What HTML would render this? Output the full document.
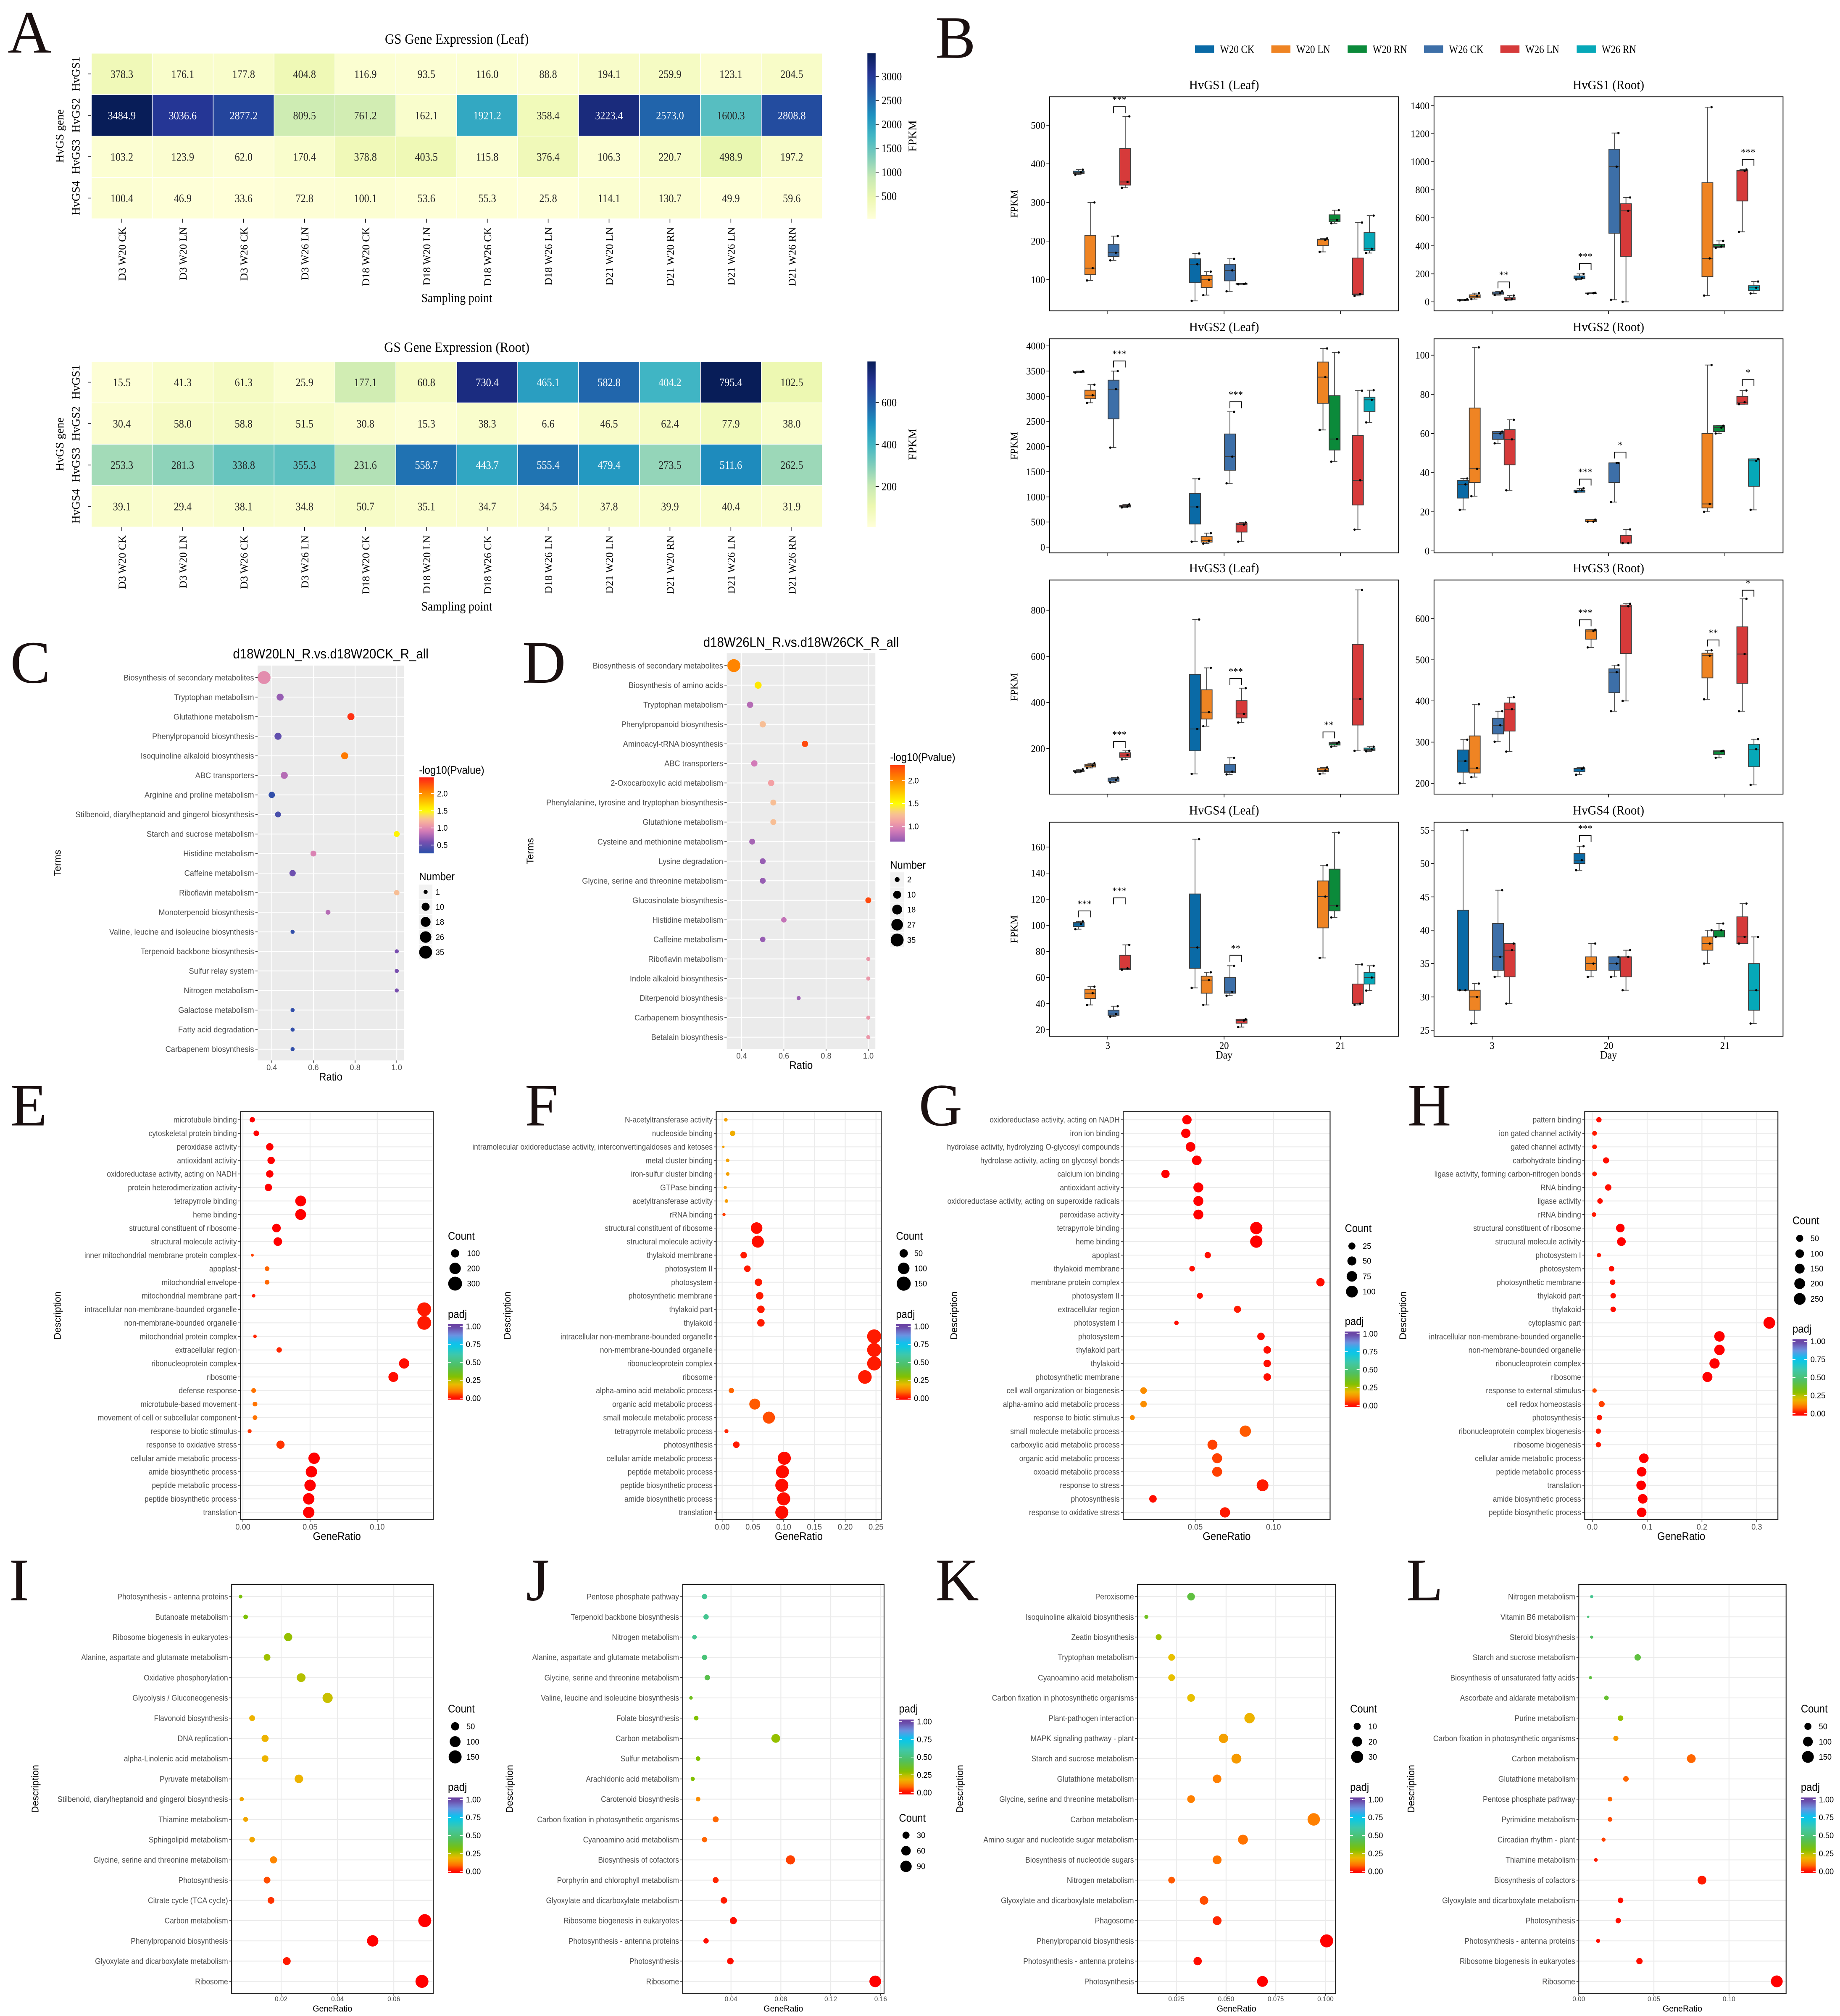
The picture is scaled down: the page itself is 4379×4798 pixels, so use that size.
<!DOCTYPE html>
<html><head><meta charset="utf-8"><title>GS gene expression figure</title>
<style>html,body{margin:0;padding:0;background:#fff}svg{display:block}</style></head>
<body>
<svg id="fig" xmlns="http://www.w3.org/2000/svg" width="4379" height="4798" viewBox="0 0 1434 1571" preserveAspectRatio="none">
<rect x="0" y="0" width="1434" height="1571" fill="#ffffff"/>
<defs>
<linearGradient id="gYlGnBu" x1="0" y1="1" x2="0" y2="0">
<stop offset="0" stop-color="#ffffd9"/><stop offset="0.125" stop-color="#edf8b1"/><stop offset="0.25" stop-color="#c7e9b4"/><stop offset="0.375" stop-color="#7fcdbb"/><stop offset="0.5" stop-color="#41b6c4"/><stop offset="0.625" stop-color="#1d91c0"/><stop offset="0.75" stop-color="#225ea8"/><stop offset="0.875" stop-color="#253494"/><stop offset="1" stop-color="#081d58"/>
</linearGradient>
</defs>
</svg>
<script>
// ---------------- data: heatmaps ----------------
const hmCols=['D3 W20 CK','D3 W20 LN','D3 W26 CK','D3 W26 LN','D18 W20 CK','D18 W20 LN','D18 W26 CK','D18 W26 LN','D21 W20 LN','D21 W20 RN','D21 W26 LN','D21 W26 RN'];
const hmRows=['HvGS1','HvGS2','HvGS3','HvGS4'];
const leafVals=[[378.3,176.1,177.8,404.8,116.9,93.5,116.0,88.8,194.1,259.9,123.1,204.5],[3484.9,3036.6,2877.2,809.5,761.2,162.1,1921.2,358.4,3223.4,2573.0,1600.3,2808.8],[103.2,123.9,62.0,170.4,378.8,403.5,115.8,376.4,106.3,220.7,498.9,197.2],[100.4,46.9,33.6,72.8,100.1,53.6,55.3,25.8,114.1,130.7,49.9,59.6]];
const rootVals=[[15.5,41.3,61.3,25.9,177.1,60.8,730.4,465.1,582.8,404.2,795.4,102.5],[30.4,58.0,58.8,51.5,30.8,15.3,38.3,6.6,46.5,62.4,77.9,38.0],[253.3,281.3,338.8,355.3,231.6,558.7,443.7,555.4,479.4,273.5,511.6,262.5],[39.1,29.4,38.1,34.8,50.7,35.1,34.7,34.5,37.8,39.9,40.4,31.9]];
const leafTicks=[500,1000,1500,2000,2500,3000];
const rootTicks=[200,400,600];

// ---------------- data: boxplots ----------------
const bpGroups=['W20 CK','W20 LN','W20 RN','W26 CK','W26 LN','W26 RN'];
const bpDays=['3','20','21'];
const bpDayGroups=[[0,1,3,4],[0,1,3,4],[1,2,4,5]];
const bpTitles=['HvGS1 (Leaf)','HvGS1 (Root)','HvGS2 (Leaf)','HvGS2 (Root)','HvGS3 (Leaf)','HvGS3 (Root)','HvGS4 (Leaf)','HvGS4 (Root)'];
const bpDomains=[[19.4,573.8],[-64,1464],[-112,4142],[-0.96,108.4],[2.5,931],[173.8,693.7],[15,179],[24.1,56.2]];
const bpTicks=[[100,200,300,400,500],[0,200,400,600,800,1000,1200,1400],[0,500,1000,1500,2000,2500,3000,3500,4000],[0,20,40,60,80,100],[200,400,600,800],[200,300,400,500,600],[20,40,60,80,100,120,140,160],[25,30,35,40,45,50,55]];
const bpStats=[
 [[[372,375,378,381,385],[98,113,130,215,300],[150,160,170,192,213],[338,345,353,440,523]],
  [[45,92,140,154,168],[60,80,100,111,121],[70,97,124,140,154],[88,88,89,90,90]],
  [[172,188,203,205,207],[246,250,255,268,280],[58,61,63,156,248],[169,175,180,222,266]]],
 [[[10,12,14,16,18],[20,28,40,50,62],[48,55,62,70,75],[12,15,20,30,45]],
  [[160,165,170,185,200],[58,60,62,63,65],[15,490,965,1090,1205],[0,325,650,700,745]],
  [[45,180,310,850,1390],[385,390,395,410,435],[500,720,935,940,945],[60,80,100,115,145]]],
 [[[3470,3480,3485,3490,3500],[2870,2950,3020,3120,3230],[1980,2550,3140,3320,3500],[790,800,810,830,850]],
  [[110,460,800,1070,1360],[70,100,130,210,280],[1270,1530,1800,2250,2690],[110,300,450,480,490]],
  [[2330,2860,3380,3680,3950],[1700,1930,2150,3010,3870],[350,840,1330,2220,3110],[2480,2700,2930,2980,3120]]],
 [[[21,27,34,36,37],[28,35,42,73,104],[55,57,60,61,61],[31,44,57,62,67]],
  [[30,30,31,31,32],[15,15,15,16,16],[25,35,45,45,45],[4,4,4,8,11]],
  [[20,22,24,60,95],[60,61,63,64,64],[75,75,76,79,82],[21,33,46,47,47]]],
 [[[97,100,103,106,110],[116,120,126,132,136],[53,58,64,72,74],[153,162,172,182,190]],
  [[90,190,285,522,760],[297,328,358,455,550],[88,95,100,132,160],[313,333,350,408,462]],
  [[90,100,105,115,118],[208,215,222,226,228],[190,302,415,652,888],[188,192,196,202,208]]],
 [[[200,227,254,281,306],[215,225,237,315,392],[301,320,341,358,375],[277,327,380,395,409]],
  [[221,228,235,236,238],[530,550,570,573,573],[375,420,470,478,487],[400,515,630,633,636]],
  [[404,456,510,516,523],[262,270,278,279,279],[375,443,514,580,648],[196,240,283,295,307]]],
 [[[97,99,101,102,103],[39,44,48,51,53],[30,31,32,35,38],[66,66,67,77,85]],
  [[52,67,83,124,166],[39,48,58,61,64],[46,48,49,60,69],[22,25,27,28,28]],
  [[75,98,122,134,146],[106,111,115,143,171],[39,40,40,55,70],[50,55,60,64,69]]],
 [[[31,31,31,43,55],[26,28,30,31,32],[33,34,36,41,46],[29,33,37,38,38]],
  [[49,50,50.5,51.5,52.6],[33,34,35,36,38],[33,34,35,36,36],[31,33,36,36,37]],
  [[35,37,38,39,40],[39,39,40,40,41],[38,38,39,42,44],[26,28,31,35,39]]]
];
// significance: [day, groupA, groupB, bracketValue, label]
const bpSig=[
 [[0,3,4,548,'***']],
 [[0,3,4,142,'**'],[1,0,1,273,'***'],[2,4,5,1017,'***']],
 [[0,3,4,3700,'***'],[1,3,4,2890,'***']],
 [[1,0,1,36.7,'***'],[1,3,4,50.5,'*'],[2,4,5,87.5,'*']],
 [[0,3,4,230,'***'],[1,3,4,504,'***'],[2,1,2,272,'**']],
 [[1,0,1,597,'***'],[2,1,2,548,'**'],[2,4,5,669,'*']],
 [[0,0,1,111,'***'],[0,3,4,121,'***'],[1,3,4,77,'**']],
 [[1,0,1,54.2,'***']]
];

// ---------------- data: enrichment dot plots ----------------
const cTerms=['Biosynthesis of secondary metabolites','Tryptophan metabolism','Glutathione metabolism','Phenylpropanoid biosynthesis','Isoquinoline alkaloid biosynthesis','ABC transporters','Arginine and proline metabolism','Stilbenoid, diarylheptanoid and gingerol biosynthesis','Starch and sucrose metabolism','Histidine metabolism','Caffeine metabolism','Riboflavin metabolism','Monoterpenoid biosynthesis','Valine, leucine and isoleucine biosynthesis','Terpenoid backbone biosynthesis','Sulfur relay system','Nitrogen metabolism','Galactose metabolism','Fatty acid degradation','Carbapenem biosynthesis'];
const cRatio=[0.363,0.44,0.78,0.43,0.75,0.46,0.40,0.43,1.0,0.60,0.50,1.0,0.67,0.50,1.0,1.0,1.0,0.50,0.50,0.50];
const cNumber=[35,7,7,7,7,7,5,4,4,4,5,3,2,1,1,1,1,1,1,1];
const cLogP=[1.0,0.7,2.4,0.5,2.1,0.8,0.3,0.4,1.55,0.95,0.55,1.25,0.8,0.3,0.6,0.6,0.6,0.3,0.3,0.3];

const dTerms=['Biosynthesis of secondary metabolites','Biosynthesis of amino acids','Tryptophan metabolism','Phenylpropanoid biosynthesis','Aminoacyl-tRNA biosynthesis','ABC transporters','2-Oxocarboxylic acid metabolism','Phenylalanine, tyrosine and tryptophan biosynthesis','Glutathione metabolism','Cysteine and methionine metabolism','Lysine degradation','Glycine, serine and threonine metabolism','Glucosinolate biosynthesis','Histidine metabolism','Caffeine metabolism','Riboflavin metabolism','Indole alkaloid biosynthesis','Diterpenoid biosynthesis','Carbapenem biosynthesis','Betalain biosynthesis'];
const dRatio=[0.363,0.478,0.44,0.50,0.70,0.46,0.54,0.55,0.55,0.45,0.50,0.50,1.0,0.60,0.50,1.0,1.0,0.67,1.0,1.0];
const dNumber=[35,7,5,5,5,5,5,4,4,4,4,4,4,3,3,1,1,1,1,1];
const dLogP=[2.05,1.6,0.8,1.25,2.3,0.9,1.1,1.25,1.25,0.75,0.7,0.7,2.3,0.85,0.7,1.05,1.05,0.72,1.05,1.05];

const eTerms=['microtubule binding','cytoskeletal protein binding','peroxidase activity','antioxidant activity','oxidoreductase activity, acting on NADH','protein heterodimerization activity','tetrapyrrole binding','heme binding','structural constituent of ribosome','structural molecule activity','inner mitochondrial membrane protein complex','apoplast','mitochondrial envelope','mitochondrial membrane part','intracellular non-membrane-bounded organelle','non-membrane-bounded organelle','mitochondrial protein complex','extracellular region','ribonucleoprotein complex','ribosome','defense response','microtubule-based movement','movement of cell or subcellular component','response to biotic stimulus','response to oxidative stress','cellular amide metabolic process','amide biosynthetic process','peptide metabolic process','peptide biosynthetic process','translation'];
const eRatio=[0.007,0.010,0.020,0.021,0.020,0.019,0.043,0.043,0.025,0.026,0.007,0.018,0.018,0.008,0.135,0.135,0.009,0.027,0.120,0.112,0.008,0.009,0.009,0.005,0.028,0.053,0.051,0.050,0.049,0.049];
const eCount=[40,45,80,80,80,80,180,180,110,110,10,30,30,15,300,300,15,40,160,150,30,30,30,20,100,200,200,200,200,200];
const ePadj=[0,0,0,0,0,0,0,0,0,0,0.05,0.08,0.08,0.02,0.02,0.02,0.03,0.03,0.01,0.01,0.09,0.09,0.09,0.04,0.04,0,0,0,0,0];

const fTerms=['N-acetyltransferase activity','nucleoside binding','intramolecular oxidoreductase activity, interconvertingaldoses and ketoses','metal cluster binding','iron-sulfur cluster binding','GTPase binding','acetyltransferase activity','rRNA binding','structural constituent of ribosome','structural molecule activity','thylakoid membrane','photosystem II','photosystem','photosynthetic membrane','thylakoid part','thylakoid','intracellular non-membrane-bounded organelle','non-membrane-bounded organelle','ribonucleoprotein complex','ribosome','alpha-amino acid metabolic process','organic acid metabolic process','small molecule metabolic process','tetrapyrrole metabolic process','photosynthesis','cellular amide metabolic process','peptide metabolic process','peptide biosynthetic process','amide biosynthetic process','translation'];
const fRatio=[0.006,0.017,0.002,0.009,0.009,0.005,0.007,0.003,0.056,0.058,0.035,0.041,0.059,0.061,0.063,0.063,0.247,0.247,0.247,0.232,0.015,0.053,0.076,0.007,0.023,0.101,0.098,0.097,0.100,0.097];
const fCount=[8,20,3,8,8,6,8,6,100,110,30,30,40,40,40,40,150,150,150,140,20,90,110,10,30,130,130,130,130,130];
const fPadj=[0.15,0.17,0.15,0.15,0.15,0.14,0.14,0.05,0.01,0.01,0.02,0.02,0.02,0.02,0.02,0.02,0.02,0.02,0.02,0.02,0.08,0.07,0.06,0.03,0.02,0.01,0.01,0.01,0.01,0.01];

const gTerms=['oxidoreductase activity, acting on NADH','iron ion binding','hydrolase activity, hydrolyzing O-glycosyl compounds','hydrolase activity, acting on glycosyl bonds','calcium ion binding','antioxidant activity','oxidoreductase activity, acting on superoxide radicals','peroxidase activity','tetrapyrrole binding','heme binding','apoplast','thylakoid membrane','membrane protein complex','photosystem II','extracellular region','photosystem I','photosystem','thylakoid part','thylakoid','photosynthetic membrane','cell wall organization or biogenesis','alpha-amino acid metabolic process','response to biotic stimulus','small molecule metabolic process','carboxylic acid metabolic process','organic acid metabolic process','oxoacid metabolic process','response to stress','photosynthesis','response to oxidative stress'];
const gRatio=[0.0447,0.044,0.047,0.051,0.031,0.052,0.052,0.052,0.089,0.089,0.058,0.048,0.130,0.053,0.077,0.038,0.092,0.096,0.096,0.096,0.017,0.017,0.0098,0.082,0.061,0.064,0.064,0.093,0.023,0.069];
const gCount=[55,55,60,60,40,65,65,65,110,110,18,12,40,15,25,5,30,30,30,30,20,20,8,90,65,65,65,100,30,70];
const gPadj=[0,0,0,0,0,0,0,0,0,0,0.01,0.01,0.01,0.01,0.02,0.01,0.01,0.01,0.01,0.01,0.12,0.12,0.12,0.07,0.05,0.05,0.05,0.02,0.01,0.02];

const hTerms=['pattern binding','ion gated channel activity','gated channel activity','carbohydrate binding','ligase activity, forming carbon-nitrogen bonds','RNA binding','ligase activity','rRNA binding','structural constituent of ribosome','structural molecule activity','photosystem I','photosystem','photosynthetic membrane','thylakoid part','thylakoid','cytoplasmic part','intracellular non-membrane-bounded organelle','non-membrane-bounded organelle','ribonucleoprotein complex','ribosome','response to external stimulus','cell redox homeostasis','photosynthesis','ribonucleoprotein complex biogenesis','ribosome biogenesis','cellular amide metabolic process','peptide metabolic process','translation','amide biosynthetic process','peptide biosynthetic process'];
const hRatio=[0.012,0.004,0.004,0.025,0.004,0.029,0.014,0.003,0.051,0.053,0.012,0.035,0.037,0.038,0.038,0.323,0.232,0.232,0.223,0.210,0.004,0.017,0.013,0.011,0.011,0.094,0.090,0.089,0.092,0.090];
const hCount=[15,8,8,30,8,35,18,6,100,105,4,18,18,18,18,250,180,180,170,160,5,28,18,15,15,140,140,140,140,140];
const hPadj=[0.01,0.02,0.02,0.01,0.02,0.01,0.01,0.02,0,0,0.02,0.01,0.01,0.01,0.01,0,0,0,0,0,0.06,0.05,0.02,0.02,0.02,0,0,0,0,0];

const iTerms=['Photosynthesis - antenna proteins','Butanoate metabolism','Ribosome biogenesis in eukaryotes','Alanine, aspartate and glutamate metabolism','Oxidative phosphorylation','Glycolysis / Gluconeogenesis','Flavonoid biosynthesis','DNA replication','alpha-Linolenic acid metabolism','Pyruvate metabolism','Stilbenoid, diarylheptanoid and gingerol biosynthesis','Thiamine metabolism','Sphingolipid metabolism','Glycine, serine and threonine metabolism','Photosynthesis','Citrate cycle (TCA cycle)','Carbon metabolism','Phenylpropanoid biosynthesis','Glyoxylate and dicarboxylate metabolism','Ribosome'];
const iRatio=[0.0056,0.0074,0.0225,0.015,0.0271,0.0365,0.0097,0.0143,0.0143,0.0263,0.006,0.0074,0.0097,0.0173,0.015,0.0164,0.071,0.0525,0.022,0.070];
const iCount=[5,10,50,30,60,85,20,35,30,55,8,12,18,35,30,30,150,110,45,150];
const iPadj=[0.32,0.31,0.28,0.27,0.25,0.23,0.18,0.18,0.18,0.18,0.16,0.16,0.16,0.11,0.06,0.04,0,0,0.02,0];

const jTerms=['Pentose phosphate pathway','Terpenoid backbone biosynthesis','Nitrogen metabolism','Alanine, aspartate and glutamate metabolism','Glycine, serine and threonine metabolism','Valine, leucine and isoleucine biosynthesis','Folate biosynthesis','Carbon metabolism','Sulfur metabolism','Arachidonic acid metabolism','Carotenoid biosynthesis','Carbon fixation in photosynthetic organisms','Cyanoamino acid metabolism','Biosynthesis of cofactors','Porphyrin and chlorophyll metabolism','Glyoxylate and dicarboxylate metabolism','Ribosome biogenesis in eukaryotes','Photosynthesis - antenna proteins','Photosynthesis','Ribosome'];
const jRatio=[0.0188,0.020,0.0107,0.0188,0.021,0.0079,0.0121,0.0759,0.0136,0.0093,0.0136,0.0277,0.0188,0.0877,0.0277,0.0343,0.0419,0.020,0.0395,0.1557];
const jCount=[15,15,10,15,16,5,10,50,10,8,10,20,15,55,20,25,30,15,25,95];
const jPadj=[0.56,0.55,0.55,0.5,0.42,0.35,0.3,0.28,0.3,0.3,0.12,0.08,0.08,0.05,0.03,0.02,0.01,0.01,0.01,0];

const kTerms=['Peroxisome','Isoquinoline alkaloid biosynthesis','Zeatin biosynthesis','Tryptophan metabolism','Cyanoamino acid metabolism','Carbon fixation in photosynthetic organisms','Plant-pathogen interaction','MAPK signaling pathway - plant','Starch and sucrose metabolism','Glutathione metabolism','Glycine, serine and threonine metabolism','Carbon metabolism','Amino sugar and nucleotide sugar metabolism','Biosynthesis of nucleotide sugars','Nitrogen metabolism','Glyoxylate and dicarboxylate metabolism','Phagosome','Phenylpropanoid biosynthesis','Photosynthesis - antenna proteins','Photosynthesis'];
const kRatio=[0.0324,0.0099,0.0161,0.0226,0.0226,0.0324,0.0618,0.0487,0.0552,0.0455,0.0324,0.0941,0.0585,0.0455,0.0226,0.0389,0.0455,0.1006,0.0357,0.0683];
const kCount=[12,3,7,9,9,12,22,18,20,15,12,32,20,16,9,15,16,35,14,24];
const kPadj=[0.4,0.35,0.27,0.2,0.2,0.2,0.18,0.15,0.14,0.1,0.1,0.1,0.09,0.09,0.07,0.06,0.03,0.0,0.01,0.0];

const lTerms=['Nitrogen metabolism','Vitamin B6 metabolism','Steroid biosynthesis','Starch and sucrose metabolism','Biosynthesis of unsaturated fatty acids','Ascorbate and aldarate metabolism','Purine metabolism','Carbon fixation in photosynthetic organisms','Carbon metabolism','Glutathione metabolism','Pentose phosphate pathway','Pyrimidine metabolism','Circadian rhythm - plant','Thiamine metabolism','Biosynthesis of cofactors','Glyoxylate and dicarboxylate metabolism','Photosynthesis','Photosynthesis - antenna proteins','Ribosome biogenesis in eukaryotes','Ribosome'];
const lRatio=[0.0086,0.0063,0.0086,0.0392,0.0078,0.0184,0.0278,0.0247,0.0749,0.0314,0.0208,0.0208,0.0165,0.0114,0.082,0.0278,0.0263,0.0129,0.0404,0.1318];
const lCount=[8,4,8,40,8,20,30,25,80,30,20,20,15,12,80,30,28,15,40,150];
const lPadj=[0.55,0.5,0.45,0.4,0.4,0.38,0.28,0.14,0.08,0.08,0.08,0.06,0.05,0.02,0.02,0.01,0.01,0.01,0.01,0];

// ---------------- helpers ----------------
const NS='http://www.w3.org/2000/svg';
const svg=document.getElementById('fig');
function mk(tag,parent){const e=document.createElementNS(NS,tag);(parent||svg).appendChild(e);return e;}
function sa(e,o){for(const k in o)e.setAttribute(k,o[k]);return e;}
function txt(parent,x,y,s,size,anchor,fam,fill,sx){
  const t=mk('text',parent);
  sa(t,{transform:'translate('+x+','+y+') scale('+(sx||1)+',1)',x:0,y:0,'font-size':size,'text-anchor':anchor||'start','font-family':fam||'"Liberation Sans", sans-serif',fill:fill||'#000'});
  t.textContent=s;return t;}
function vtxt(parent,x,y,s,size,anchor,fam,fill){
  const t=mk('text',parent);
  sa(t,{transform:'translate('+x+','+y+') rotate(-90)',x:0,y:0,'font-size':size,'text-anchor':anchor||'middle','font-family':fam||'"Liberation Sans", sans-serif',fill:fill||'#000'});
  t.textContent=s;return t;}
function ln(parent,x1,y1,x2,y2,c,w){const l=mk('line',parent);sa(l,{x1,y1,x2,y2,stroke:c,'stroke-width':w});return l;}
function rc(parent,x,y,w,h,fill,stroke,sw){const r=mk('rect',parent);sa(r,{x,y,width:w,height:h,fill:fill,stroke:stroke||'none','stroke-width':sw||0});return r;}
function hex(c){return [parseInt(c.slice(1,3),16),parseInt(c.slice(3,5),16),parseInt(c.slice(5,7),16)];}
function interp(stops,v){
  if(v<=stops[0][0])return stops[0][1];
  for(let i=1;i<stops.length;i++){if(v<=stops[i][0]){const a=stops[i-1],b=stops[i];const t=(v-a[0])/(b[0]-a[0]);const A=hex(a[1]),B=hex(b[1]);return 'rgb('+A.map((x,k)=>Math.round(x+(B[k]-x)*t)).join(',')+')';}}
  return stops[stops.length-1][1];}
const SERIF='"Liberation Serif", serif';
const NARROW=0.92;

// panel letters
const letters=[['A',6,41],['B',729,45],['C',8,532],['D',407,532],['E',8,877],['F',409,877],['G',716,877],['H',1097,877],['I',7,1247],['J',410,1247],['K',729,1247],['L',1096,1247]];
letters.forEach(L=>{const t=txt(svg,L[1],L[2],L[0],47,'start',SERIF,'#1a1010');

});

// ---------------- heatmaps ----------------
const ylgnbu=[[0,'#ffffd9'],[0.125,'#edf8b1'],[0.25,'#c7e9b4'],[0.375,'#7fcdbb'],[0.5,'#41b6c4'],[0.625,'#1d91c0'],[0.75,'#225ea8'],[0.875,'#253494'],[1,'#081d58']];
function heatmap(vals,ticks,title,y0,name){
  const g=mk('g');
  
  
  const x0=71.2,x1=640.8,h=129,y1=y0+h;const cw=(x1-x0)/hmCols.length,ch=h/hmRows.length;
  let mn=Infinity,mx=-Infinity;vals.forEach(r=>r.forEach(v=>{mn=Math.min(mn,v);mx=Math.max(mx,v);}));
  const tt=txt(g,356,y0-7.5,title,11,'middle',SERIF,'#000',0.92);
  
  
  vals.forEach((row,i)=>row.forEach((v,j)=>{
    const f=(v-mn)/(mx-mn);
    const c=rc(g,x0+j*cw,y0+i*ch,cw,ch,interp(ylgnbu,f),'#ffffff',0.5);
    
    
    const t=txt(g,x0+(j+0.5)*cw,y0+(i+0.5)*ch+3.1,v.toFixed(1),9,'middle',SERIF,f>0.48?'#ffffff':'#262626',0.88);
    
    
  }));
  hmRows.forEach((r,i)=>{const cy=y0+(i+0.5)*ch;ln(g,68.5,cy,71,cy,'#000',0.5);
    const t=vtxt(g,62,cy,r,9,'middle',SERIF);
    
    });
  const yl=vtxt(g,49.5,y0+h/2,'HvGS gene',9,'middle',SERIF);
  
  
  hmCols.forEach((c,j)=>{const cx=x0+(j+0.5)*cw;ln(g,cx,y1,cx,y1+3,'#000',0.5);
    const t=vtxt(g,cx+3,y1+6.5,c,8.3,'end',SERIF);
    
    });
  const xl=txt(g,356,y1+65,'Sampling point',10,'middle',SERIF,'#000',0.9);
  
  
  const cb=rc(g,676,y0,6.4,h,'url(#gYlGnBu)');
  
  
  ticks.forEach(tv=>{const ty=y1-(tv-mn)/(mx-mn)*h;ln(g,682.4,ty,685,ty,'#000',0.5);
    const t=txt(g,687,ty+3,String(tv),9,'start',SERIF,'#000',0.88);
    
    });
  const fl=vtxt(g,714,y0+h/2,'FPKM',9,'middle',SERIF);
  
  
}
heatmap(leafVals,leafTicks,'GS Gene Expression (Leaf)',41.5,'leaf-heatmap');
heatmap(rootVals,rootTicks,'GS Gene Expression (Root)',281.7,'root-heatmap');

// ---------------- boxplots ----------------
const bpColors=['#0a6aa6','#ef8423','#0b8a3a','#3d6fa8','#d63a3a','#06a8b8'];
const bpLeft=[818,1117.6];const bpTop=[75.4,264,452,640.7];const bpW=272,bpH=166.8;
const lg=mk('g');


bpGroups.forEach((gname,i)=>{const x=931.3+i*59.5;
  const r=rc(lg,x,35.4,14.9,5.8,bpColors[i]);
  
  
  const t=txt(lg,x+19.5,41.3,gname,8.5,'start',SERIF,'#000',0.88);
  
  });
bpTitles.forEach((title,p)=>{
  const px=bpLeft[p%2],py=bpTop[Math.floor(p/2)];const dom=bpDomains[p];
  const sy=v=>py+bpH-(v-dom[0])/(dom[1]-dom[0])*bpH;
  const sx=c=>px+(c+0.5)/3*bpW;
  const g=mk('g');
  
  
  const tt=txt(g,px+bpW/2,py-6,title,10,'middle',SERIF,'#000',0.95);
  
  
  const fr=rc(g,px,py,bpW,bpH,'#ffffff','#000',0.6);
  
  
  bpTicks[p].forEach(tv=>{const y=sy(tv);ln(g,px-2.5,y,px,y,'#000',0.5);
    const t=txt(g,px-3.5,y+2.7,String(tv),8,'end',SERIF,'#000',0.92);
    
    });
  if(p%2===0){const yl=vtxt(g,px-25,py+bpH/2,'FPKM',8,'middle',SERIF);
    
    }
  bpDays.forEach((d,di)=>{const cx=sx(di);ln(g,cx,py+bpH,cx,py+bpH+2.5,'#000',0.5);
    if(p>=6){const t=txt(g,cx,py+bpH+10,d,8,'middle',SERIF,'#000',0.92);
      
      }
    bpDayGroups[di].forEach((gi,k)=>{
      const s=bpStats[p][di][k];const c=di+(gi-2.5)*0.1;const bx=sx(c);const hw=0.047/3*bpW;
      const bg=mk('g',g);
      
      
      ln(bg,bx,sy(s[0]),bx,sy(s[1]),'#444',0.6);ln(bg,bx,sy(s[3]),bx,sy(s[4]),'#444',0.6);
      ln(bg,bx-hw/2,sy(s[0]),bx+hw/2,sy(s[0]),'#444',0.6);ln(bg,bx-hw/2,sy(s[4]),bx+hw/2,sy(s[4]),'#444',0.6);
      rc(bg,bx-hw,sy(s[3]),2*hw,Math.max(0.6,sy(s[1])-sy(s[3])),bpColors[gi],'#3a3a3a',0.6);
      ln(bg,bx-hw,sy(s[2]),bx+hw,sy(s[2]),'#3a3a3a',0.6);
      [[s[0],-2.6],[s[2],1.8],[s[4],3.2]].forEach(pt=>{const cc=mk('circle',bg);sa(cc,{cx:bx+pt[1],cy:sy(pt[0]),r:0.9,fill:'#000'});});
    });
  });
  if(p>=6){const dl=txt(g,px+bpW/2,825,'Day',8.5,'middle',SERIF,'#000',0.92);
    
    }
  bpSig[p].forEach(sg=>{const xa=sx(sg[0]+(sg[1]-2.5)*0.1),xb=sx(sg[0]+(sg[2]-2.5)*0.1),yt=sy(sg[3]);
    const pl=mk('polyline',g);sa(pl,{points:xa+','+(yt+5)+' '+xa+','+yt+' '+xb+','+yt+' '+xb+','+(yt+5),fill:'none',stroke:'#000','stroke-width':0.6});
    
    
    const t=txt(g,(xa+xb)/2,yt-3,sg[4],7.5,'middle',SERIF);
    
    });
});

// ---------------- dot plots ----------------
const cdStops=[[0.2,'#1a4fa8'],[0.6,'#7a50b0'],[0.9,'#d27ab8'],[1.1,'#f3a0a4'],[1.3,'#f8c890'],[1.5,'#ffff00'],[1.85,'#ffb000'],[2.1,'#ff7a00'],[2.5,'#ff1a1a']];
const rbStops=[[0,'#ff0000'],[0.1,'#ff8000'],[0.2,'#e8c000'],[0.3,'#80c000'],[0.45,'#50c060'],[0.6,'#40c8a8'],[0.75,'#00c8f0'],[0.88,'#7090e0'],[1,'#6a3fa0']];
let gradN=0;
function gradient(stops,lo,hi){
  const id='grad'+(gradN++);let defs=svg.querySelector('defs');
  const lg=mk('linearGradient',defs);sa(lg,{id,x1:0,y1:1,x2:0,y2:0});
  for(let i=0;i<=20;i++){const v=lo+(hi-lo)*i/20;const s=mk('stop',lg);sa(s,{offset:i/20,'stop-color':interp(stops,v)});}
  return 'url(#'+id+')';}
const dotPanels=[
 {name:'c',terms:cTerms,x:cRatio,n:cNumber,c:cLogP,stops:cdStops,gray:true,rect:[200.8,314.7,518.7,826.3],fy:528,step:15.24,xa:[0.4,211.8],xb:[1.0,309.2],ticks:[0.4,0.6,0.8,1.0],tlab:['0.4','0.6','0.8','1.0'],fs:6.5,ra:0.7,rb:0.9,title:'d18W20LN_R.vs.d18W20CK_R_all',titleY:513,ytitle:'Terms',ytx:47.3,xtitle:'Ratio',xty:842,xtickY:834,tfs:6.5,xtfs:8.5,
  cb:{title:'-log10(Pvalue)',tx:326.6,ty:603,x:326.6,y0:605.8,y1:665,lo:0.26,hi:2.47,ticks:[0.5,1.0,1.5,2.0],lab:['0.5','1.0','1.5','2.0']},
  sz:{title:'Number',ty:686,ys:[695,706.6,718.4,730.2,742],vals:[1,10,18,26,35],cx:331.7,lx:339.5},keyBg:true},
 {name:'d',terms:dTerms,x:dRatio,n:dNumber,c:dLogP,stops:cdStops,gray:true,rect:[566.4,682.2,509,817.4],fy:518.7,step:15.24,xa:[0.4,578],xb:[1.0,676.7],ticks:[0.4,0.6,0.8,1.0],tlab:['0.4','0.6','0.8','1.0'],fs:6.5,ra:0.7,rb:0.9,title:'d18W26LN_R.vs.d18W26CK_R_all',titleY:504,ytitle:'Terms',ytx:415.8,xtitle:'Ratio',xty:833,xtickY:825,tfs:6.5,xtfs:8.5,
  cb:{title:'-log10(Pvalue)',tx:693.7,ty:593,x:693.7,y0:596.2,y1:655.8,lo:0.67,hi:2.34,ticks:[1.0,1.5,2.0],lab:['1.0','1.5','2.0']},
  sz:{title:'Number',ty:677,ys:[685.4,697.2,708.8,720.6,732.5],vals:[2,10,18,27,35],cx:699.2,lx:707},keyBg:true},
 {name:'e',terms:eTerms,x:eRatio,n:eCount,c:ePadj,stops:rbStops,rect:[187.4,337.7,866.2,1184.1],fy:872.6,step:10.55,xa:[0,189.3],xb:[0.1,294],ticks:[0,0.05,0.1],tlab:['0.00','0.05','0.10'],fs:6.2,ra:0.3,rb:0.2,ytitle:'Description',ytx:47.3,xtitle:'GeneRatio',xty:1200,xtickY:1192,tfs:6.5,xtfs:8.5,
  cb:{title:'padj',tx:349.1,ty:1027,x:349.1,y0:1031.7,y1:1090.7,t1:1033.6,t0:1089.6},
  sz:{title:'Count',ty:966,ys:[976.7,988.4,1000.3],vals:[100,200,300],cx:354.7,lx:364}},
 {name:'f',terms:fTerms,x:fRatio,n:fCount,c:fPadj,stops:rbStops,rect:[558.2,686.8,866.2,1184.1],fy:872.6,step:10.55,xa:[0,562.8],xb:[0.25,682.7],ticks:[0,0.05,0.1,0.15,0.2,0.25],tlab:['0.00','0.05','0.10','0.15','0.20','0.25'],fs:6.2,ra:0.43,rb:0.2,ytitle:'Description',ytx:397.8,xtitle:'GeneRatio',xty:1200,xtickY:1192,tfs:6.5,xtfs:8.5,
  cb:{title:'padj',tx:698.3,ty:1027,x:698.3,y0:1031.7,y1:1090.7,t1:1033.6,t0:1089.6},
  sz:{title:'Count',ty:966,ys:[976.7,988.4,1000.3],vals:[50,100,150],cx:704.3,lx:712.5}},
 {name:'g',terms:gTerms,x:gRatio,n:gCount,c:gPadj,stops:rbStops,rect:[875.4,1036.6,866.2,1184.1],fy:872.6,step:10.55,xa:[0.05,931.5],xb:[0.1,992.5],ticks:[0.05,0.1],tlab:['0.05','0.10'],fs:6.2,ra:0.37,rb:0.9,ytitle:'Description',ytx:746,xtitle:'GeneRatio',xty:1200,xtickY:1192,tfs:6.5,xtfs:8.5,
  cb:{title:'padj',tx:1048.1,ty:1032.5,x:1048.1,y0:1037.6,y1:1096.5,t1:1039.3,t0:1095.3},
  sz:{title:'Count',ty:960,ys:[971,982.6,994.6,1006.5],vals:[25,50,75,100],cx:1053.6,lx:1062}},
 {name:'h',terms:hTerms,x:hRatio,n:hCount,c:hPadj,stops:rbStops,rect:[1235,1385.6,866.2,1184.1],fy:872.6,step:10.55,xa:[0,1241],xb:[0.3,1369.1],ticks:[0,0.1,0.2,0.3],tlab:['0.0','0.1','0.2','0.3'],fs:6.2,ra:0.21,rb:1.25,ytitle:'Description',ytx:1095.9,xtitle:'GeneRatio',xty:1200,xtickY:1192,tfs:6.5,xtfs:8.5,
  cb:{title:'padj',tx:1397,ty:1038.5,x:1397,y0:1043.6,y1:1103.1,t1:1045.3,t0:1101.5},
  sz:{title:'Count',ty:954,ys:[965,976.9,988.6,1000.3,1012.2],vals:[50,100,150,200,250],cx:1402.6,lx:1411}},
 {name:'i',terms:iTerms,x:iRatio,n:iCount,c:iPadj,stops:rbStops,rect:[180.5,337.7,1234.7,1553.4],fy:1244.2,step:15.78,xa:[0.02,219.1],xb:[0.06,306.9],ticks:[0.02,0.04,0.06],tlab:['0.02','0.04','0.06'],fs:6.2,ra:0.36,rb:0.65,ytitle:'Description',ytx:29.9,xtitle:'GeneRatio',xty:1567.5,xtickY:1559.5,tfs:5.5,xtfs:7,
  cb:{title:'padj',tx:349.1,ty:1395.5,x:349.1,y0:1400.7,y1:1459.5,t1:1402.3,t0:1458.3},
  sz:{title:'Count',ty:1334.5,ys:[1345.3,1357.2,1369.1],vals:[50,100,150],cx:354.7,lx:363.5}},
 {name:'j',terms:jTerms,x:jRatio,n:jCount,c:jPadj,stops:rbStops,rect:[532,689,1234.7,1553.4],fy:1244.2,step:15.78,xa:[0.04,569.7],xb:[0.16,686.3],ticks:[0.04,0.08,0.12,0.16],tlab:['0.04','0.08','0.12','0.16'],fs:6.2,ra:0.42,rb:0.45,ytitle:'Description',ytx:399.7,xtitle:'GeneRatio',xty:1567.5,xtickY:1559.5,tfs:5.5,xtfs:7,
  cb:{title:'padj',tx:700.6,ty:1334.5,x:700.6,y0:1340,y1:1398.3,t1:1341.6,t0:1396.9},
  sz:{title:'Count',ty:1419.5,ys:[1430.1,1442.2,1454.4],vals:[30,60,90],cx:706.1,lx:714.5}},
 {name:'k',terms:kTerms,x:kRatio,n:kCount,c:kPadj,stops:rbStops,rect:[886.5,1040.8,1234.7,1553.4],fy:1244.2,step:15.78,xa:[0.025,916.8],xb:[0.1,1033],ticks:[0.025,0.05,0.075,0.1],tlab:['0.025','0.050','0.075','0.100'],fs:6.2,ra:0.84,rb:0.1,ytitle:'Description',ytx:750.5,xtitle:'GeneRatio',xty:1567.5,xtickY:1559.5,tfs:5.5,xtfs:7,
  cb:{title:'padj',tx:1052.2,ty:1395.5,x:1052.2,y0:1400.7,y1:1459.5,t1:1402.3,t0:1458.3},
  sz:{title:'Count',ty:1334.5,ys:[1345.3,1357.2,1369.1],vals:[10,20,30],cx:1057.7,lx:1066.5}},
 {name:'l',terms:lTerms,x:lRatio,n:lCount,c:lPadj,stops:rbStops,rect:[1230.4,1392,1234.7,1553.4],fy:1244.2,step:15.78,xa:[0,1230.4],xb:[0.1,1347.5],ticks:[0,0.05,0.1],tlab:['0.00','0.05','0.10'],fs:6.2,ra:0.36,rb:0.2,ytitle:'Description',ytx:1102.3,xtitle:'GeneRatio',xty:1567.5,xtickY:1559.5,tfs:5.5,xtfs:7,
  cb:{title:'padj',tx:1403.5,ty:1395.5,x:1403.5,y0:1400.7,y1:1459.5,t1:1402.3,t0:1458.3},
  sz:{title:'Count',ty:1334.5,ys:[1345.3,1357.2,1369.1],vals:[50,100,150],cx:1409,lx:1417.5}}
];
function drawDot(P){
  const [x0,x1,y0,y1]=P.rect;
  const sx=v=>P.xa[1]+(v-P.xa[0])*(P.xb[1]-P.xa[1])/(P.xb[0]-P.xa[0]);
  const rad=n=>P.ra*Math.sqrt(n)+P.rb;
  const g=mk('g');
  
  
  const bg=rc(g,x0,y0,x1-x0,y1-y0,P.gray?'#ebebeb':'#ffffff');
  
  
  const major=P.gray?'#ffffff':'#ebebeb',minor=P.gray?'#f5f5f5':'#f4f4f4';
  const tstep=P.ticks[1]-P.ticks[0];
  for(let v=P.ticks[0]-tstep*1.5;v<=P.ticks[P.ticks.length-1]+tstep*1.5;v+=tstep){const xm=sx(v+tstep/2);
    if(xm>x0&&xm<x1)ln(g,xm,y0,xm,y1,minor,0.35);}
  P.ticks.forEach((tv,i)=>{const x=sx(tv);if(x>=x0-0.1&&x<=x1+0.1)ln(g,x,y0,x,y1,major,0.7);
    ln(g,x,y1,x,y1+1.8,'#333',0.5);
    const t=txt(g,x,P.xtickY,P.tlab[i],P.tfs,'middle',null,'#4d4d4d',NARROW);
    
    });
  P.terms.forEach((term,i)=>{const y=P.fy+i*P.step;ln(g,x0,y,x1,y,major,0.7);ln(g,x0-1.8,y,x0,y,'#333',0.5);
    const t=txt(g,x0-2.8,y+2.2,term,P.fs,'end',null,'#4d4d4d',NARROW);
    
    });
  P.terms.forEach((term,i)=>{const c=mk('circle',g);sa(c,{cx:sx(P.x[i]),cy:P.fy+i*P.step,r:rad(P.n[i]),fill:interp(P.stops,P.c[i])});
    
    });
  if(!P.gray){const fr=rc(g,x0,y0,x1-x0,y1-y0,'none','#222',0.7);
    
    }
  if(P.title){const t=txt(g,(x0+x1)/2,P.titleY,P.title,10.5,'middle',null,'#000',NARROW);
    
    }
  const yt=vtxt(g,P.ytx,(y0+y1)/2,P.ytitle,7.5,'middle');
  
  
  const xt=txt(g,(x0+x1)/2,P.xty,P.xtitle,P.xtfs,'middle',null,'#000',NARROW);
  
  
  const C=P.cb;
  const ct=txt(g,C.tx,C.ty,C.title,8.5,'start',null,'#000',NARROW);
  
  
  let lo,hi,ytick;
  if(C.lo!==undefined){lo=C.lo;hi=C.hi;ytick=v=>C.y1-(v-lo)/(hi-lo)*(C.y1-C.y0);}
  else{ytick=v=>C.t0-v*(C.t0-C.t1);lo=(C.y1-C.t0)/(C.t0-C.t1)*-1;hi=1+(C.t1-C.y0)/(C.t0-C.t1);}
  const cbar=rc(g,C.x,C.y0,11.5,C.y1-C.y0,gradient(P.stops,lo,hi));
  
  
  const tv=C.ticks||[0,0.25,0.5,0.75,1],tl=C.lab||['0.00','0.25','0.50','0.75','1.00'];
  tv.forEach((v,i)=>{const y=ytick(v);ln(g,C.x,y,C.x+2.3,y,'#fff',0.5);ln(g,C.x+9.2,y,C.x+11.5,y,'#fff',0.5);
    const t=txt(g,C.x+14,y+2.2,tl[i],6.5,'start',null,'#000',NARROW);
    
    });
  const S=P.sz;
  const st=txt(g,C.x,S.ty,S.title,8.5,'start',null,'#000',NARROW);
  
  
  S.vals.forEach((v,i)=>{
    if(P.keyBg){rc(g,S.cx-5.3,S.ys[i]-5.6,10.6,11.2,'#f2f2f2');}
    const c=mk('circle',g);sa(c,{cx:S.cx,cy:S.ys[i],r:rad(v),fill:'#000'});
    
    
    const t=txt(g,S.lx,S.ys[i]+2.2,String(v),6.5,'start',null,'#000',NARROW);
    
    });
}
dotPanels.forEach(drawDot);
</script>
</body></html>
